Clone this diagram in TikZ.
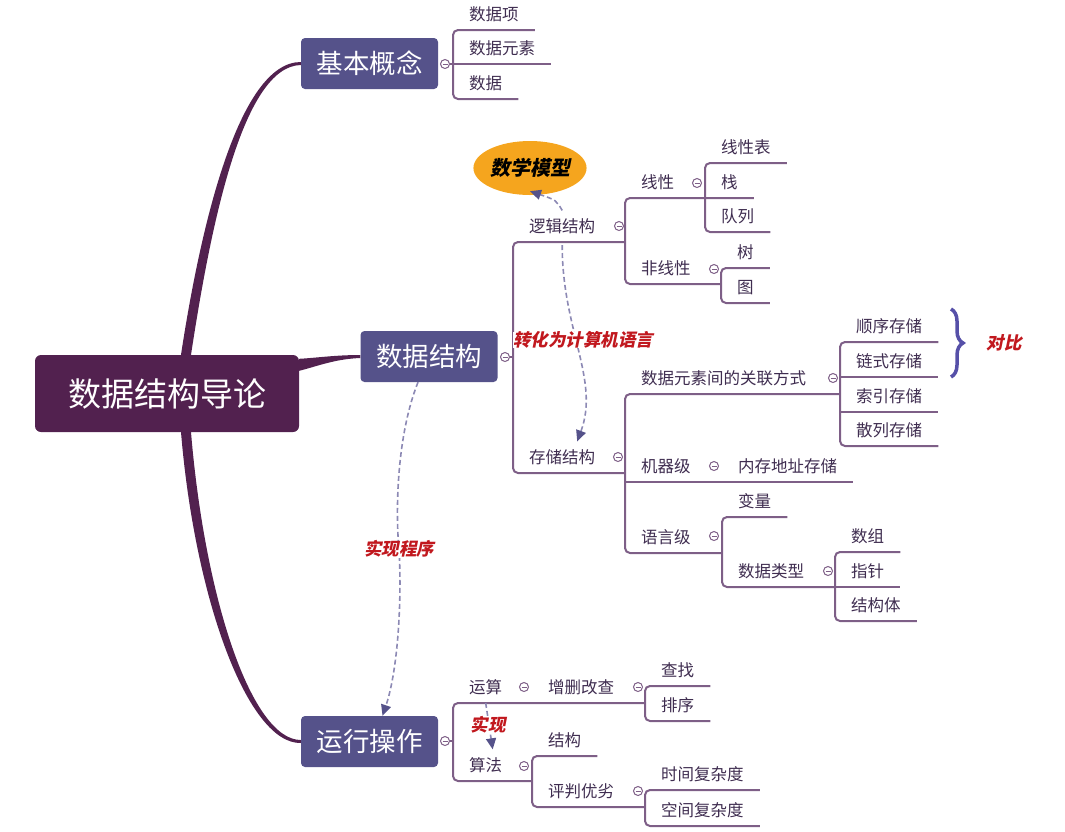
\documentclass[tikz,border=0pt]{standalone}
\usepackage{fontspec}
\setmainfont{Noto Sans CJK SC}
\newfontfamily\notefont{Noto Sans CJK SC}[FakeSlant=0.2]
\usetikzlibrary{arrows.meta,shapes.geometric,decorations.pathreplacing,backgrounds}

\definecolor{rootc}{HTML}{52214F}
\definecolor{topicc}{HTML}{55528A}
\definecolor{linec}{HTML}{7E5F87}
\definecolor{inkc}{HTML}{3F2D50}
\definecolor{dashc}{HTML}{8C89B4}
\definecolor{headc}{HTML}{55528A}
\definecolor{redc}{HTML}{C1181E}
\definecolor{orangec}{HTML}{F5A51E}
\definecolor{bracec}{HTML}{5650A8}

\tikzset{
  rootbox/.style={fill=rootc, text=white, rounded corners=6pt, minimum width=264pt, minimum height=77pt, inner sep=0pt, font=\fontsize{33}{37}\selectfont},
  topic/.style={fill=topicc, text=white, rounded corners=4pt, minimum width=137pt, minimum height=51pt, inner sep=0pt, font=\fontsize{26.5}{30}\selectfont},
  sub/.style={anchor=south west, inner xsep=16pt, inner ysep=8pt, text=inkc, font=\fontsize{16.5}{18}\selectfont},
  fold/.style={circle, draw=linec, fill=white, line width=1pt, minimum size=9pt, inner sep=0pt,
    path picture={\draw[linec, line width=0.8pt] ([xshift=-2.5pt]path picture bounding box.center) -- ([xshift=2.5pt]path picture bounding box.center);}},
  branch/.style={draw=linec, line width=2pt, rounded corners=5pt},
  relation/.style={draw=dashc, line width=1.6pt, dash pattern=on 5pt off 3pt, -{Triangle[length=11pt, width=10pt, color=headc]}},
  note/.style={text=redc, fill=white, inner sep=0pt, font=\notefont\bfseries\fontsize{17.5}{20}\selectfont}
}

\begin{document}
\begin{tikzpicture}[x=1pt, y=-1pt]
\useasboundingbox (0,0) rectangle (1065,831);

% Central topic and main topics
\node[rootbox] (root) at (167,393.5) {数据结构导论};
\node[topic] (concept) at (369.5,63.5) {基本概念};
\node[topic] (struct) at (429,356.5) {数据结构};
\node[topic] (oper) at (369.5,741.5) {运行操作};

% Thick tapered links from the centre
\begin{scope}[on background layer]
\fill[rootc] ([xshift=14pt]root.north) .. controls (200,230) and (238,62) .. ([yshift=1.5pt]concept.west)
  -- ([yshift=-1.5pt]concept.west) .. controls (242,66) and (210,230) .. ([xshift=24pt]root.north) -- cycle;
\fill[rootc] ([xshift=14pt]root.south) .. controls (195,600) and (248,744) .. ([yshift=-1.5pt]oper.west)
  -- ([yshift=1.5pt]oper.west) .. controls (252,740) and (205,600) .. ([xshift=24pt]root.south) -- cycle;
\fill[rootc] ([yshift=-4pt]root.north east) .. controls (315,358) and (335,355) .. ([yshift=1.5pt]struct.west)
  -- ([yshift=-1.5pt]struct.west) .. controls (335,359) and (318,366) .. ([yshift=-16pt]root.north east) -- cycle;
\end{scope}

% Fold markers
\node[fold] (fc) at (445,64) {};
\node[fold] (fs) at (505,357) {};
\node[fold] (fo) at (445,741) {};
\node[fold] (fl) at (619,226) {};
\node[fold] (flin) at (697,183) {};
\node[fold] (fnon) at (714,269) {};
\node[fold] (fst) at (618,457) {};
\node[fold] (frel) at (833,378) {};
\node[fold] (fmac) at (714,466) {};
\node[fold] (flang) at (714,536) {};
\node[fold] (ftype) at (828,571) {};
\node[fold] (fcalc) at (524,687) {};
\node[fold] (fcrud) at (638,687) {};
\node[fold] (falgo) at (524,766) {};
\node[fold] (fjudge) at (638,791) {};

% Basic concepts
\node[sub] (item) at (453,30) {数据项};
\node[sub] (elem) at (453,64) {数据元素};
\node[sub] (datum) at (453,99) {数据};
\draw[branch] (item.south east) -- (item.south west) -- (datum.south west) -- (datum.south east);
\draw[branch] (fc.east) -- (elem.south east);

% Data structure: logical side
\node[sub] (logic) at (513,242) {逻辑结构};
\node[sub] (store) at (513,473) {存储结构};
\node[sub] (linear) at (625,198) {线性};
\node[sub] (nonlin) at (625,284) {非线性};
\node[sub] (tablelist) at (705,163) {线性表};
\node[sub] (stack) at (705,198) {栈};
\node[sub] (queue) at (705,232) {队列};
\node[sub] (tree) at (721,268) {树};
\node[sub] (graph) at (721,303) {图};
\draw[branch] (fs.east) -- (fs.east -| logic.south west);
\draw[branch] (logic.south west -| linear.south west) -- (logic.south west) -- (store.south west) -- (store.south west -| linear.south west);
\draw[branch] (stack.south east) -- (linear.south west) -- (nonlin.south west) -- (nonlin.south west -| tree.south west);
\draw[branch] (tablelist.south east) -- (tablelist.south west) -- (queue.south west) -- (queue.south east);
\draw[branch] (tree.south east) -- (tree.south west) -- (graph.south west) -- (graph.south east);

% Data structure: storage side
\node[sub] (relate) at (625,394) {数据元素间的关联方式};
\node[sub] (machine) at (625,482) {机器级};
\node[sub] (lang) at (625,553) {语言级};
\node[sub] (seq) at (840,342) {顺序存储};
\node[sub] (link) at (840,377) {链式存储};
\node[sub] (index) at (840,412) {索引存储};
\node[sub] (hash) at (840,446) {散列存储};
\node[sub] (memory) at (722,482) {内存地址存储};
\node[sub] (var) at (722,517) {变量};
\node[sub] (dtype) at (722,587) {数据类型};
\node[sub] (array) at (835,552) {数组};
\node[sub] (pointer) at (835,587) {指针};
\node[sub] (record) at (835,621) {结构体};
\draw[branch] (relate.south west -| seq.south west) -- (relate.south west) -- (lang.south west) -- (lang.south west -| var.south west);
\draw[branch] (machine.south west) -- (memory.south east);
\draw[branch] (seq.south east) -- (seq.south west) -- (hash.south west) -- (hash.south east);
\draw[branch] (link.south west) -- (link.south east);
\draw[branch] (index.south west) -- (index.south east);
\draw[branch] (var.south east) -- (var.south west) -- (dtype.south west) -- (dtype.south west -| array.south west);
\draw[branch] (array.south east) -- (array.south west) -- (record.south west) -- (record.south east);
\draw[branch] (pointer.south west) -- (pointer.south east);

% Operations
\node[sub] (calc) at (453,703) {运算};
\node[sub] (algo) at (453,781) {算法};
\node[sub] (crud) at (532,703) {增删改查};
\node[sub] (find) at (645,686) {查找};
\node[sub] (sort) at (645,721) {排序};
\node[sub] (struc) at (532,756) {结构};
\node[sub] (judge) at (532,807) {评判优劣};
\node[sub] (timec) at (645,790) {时间复杂度};
\node[sub] (spacec) at (645,826) {空间复杂度};
\draw[branch] (fo.east) -- (fo.east -| calc.south west);
\draw[branch] (crud.south west -| find.south west) -- (calc.south west) -- (algo.south west) -- (algo.south west -| struc.south west);
\draw[branch] (find.south east) -- (find.south west) -- (sort.south west) -- (sort.south east);
\draw[branch] (struc.south east) -- (struc.south west) -- (judge.south west) -- (judge.south west -| timec.south west);
\draw[branch] (timec.south east) -- (timec.south west) -- (spacec.south west) -- (spacec.south east);

% Relations
\node[ellipse, fill=orangec, minimum width=110pt, minimum height=54pt, inner sep=0pt, font=\notefont\bfseries\fontsize{20}{23}\selectfont] (model) at (530,168) {数学模型};
\draw[relation] (logic.north) .. controls (556,200) .. ([yshift=4pt]model.south);
\draw[relation] ([yshift=-3pt]logic.south) .. controls (562,330) and (600,380) .. ([xshift=15pt]store.north);
\node[note] (convert) at (583,340) {转化为计算机语言};
\draw[relation] ([xshift=-11pt]struct.south) .. controls (395,440) and (396,520) .. (399,549)
  .. controls (402,600) and (398,670) .. ([xshift=13pt]oper.north);
\node[note] (program) at (399,549) {实现程序};
\draw[relation] (calc.south) -- ([xshift=7pt]algo.north);
\node[note] (realize) at (488,725) {实现};

% Comparison brace
\draw[bracec, line width=3.5pt, decorate, decoration={brace, amplitude=12pt}] (951,309) -- (951,377);
\node[text=redc, font=\notefont\bfseries\fontsize{17.5}{20}\selectfont] (compare) at (1004,343) {对比};

\end{tikzpicture}
\end{document}
